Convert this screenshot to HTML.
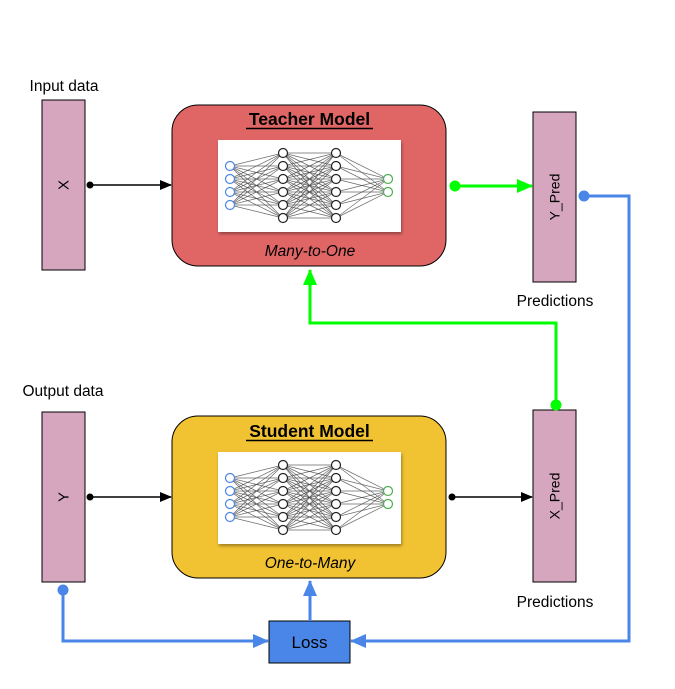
<!DOCTYPE html>
<html><head><meta charset="utf-8"><style>
html,body{margin:0;padding:0;background:#fff}
svg{display:block;font-family:"Liberation Sans",Arial,sans-serif}
</style></head><body>
<svg id="s" width="675" height="689" viewBox="0 0 675 689" xmlns="http://www.w3.org/2000/svg">
<defs>
<marker id="ak" markerWidth="12" markerHeight="10" refX="11" refY="5" orient="auto" markerUnits="userSpaceOnUse"><path d="M0,0 L12,5 L0,10z" fill="#000"/></marker>
<marker id="ag" markerWidth="16" markerHeight="14" refX="15" refY="7" orient="auto" markerUnits="userSpaceOnUse"><path d="M0,0 L16,7 L0,14z" fill="#00ff00"/></marker>
<marker id="ab" markerWidth="16" markerHeight="14" refX="15" refY="7" orient="auto" markerUnits="userSpaceOnUse"><path d="M0,0 L16,7 L0,14z" fill="#4a86e8"/></marker>
<filter id="sh"><feDropShadow dx="1" dy="2" stdDeviation="1.5" flood-opacity="0.35"/></filter>
</defs>
<rect width="675" height="689" fill="#fff"/>

<text x="64" y="91" font-size="15.5" text-anchor="middle">Input data</text>
<text x="63" y="396" font-size="15.5" text-anchor="middle">Output data</text>
<text x="555" y="306" font-size="15.5" text-anchor="middle">Predictions</text>
<text x="555" y="607" font-size="15.5" text-anchor="middle">Predictions</text>

<rect x="42" y="100" width="43" height="170" fill="#d5a6bd" stroke="#000"/>
<text transform="translate(63.5,185) rotate(-90)" font-size="15" text-anchor="middle" dy="5">X</text>
<rect x="42" y="412" width="43" height="170" fill="#d5a6bd" stroke="#000"/>
<text transform="translate(63.5,497) rotate(-90)" font-size="15" text-anchor="middle" dy="5">Y</text>
<rect x="533" y="112" width="43" height="170" fill="#d5a6bd" stroke="#000"/>
<text transform="translate(554.5,197) rotate(-90)" font-size="14" text-anchor="middle" dy="5">Y_Pred</text>
<rect x="533" y="410" width="43" height="172" fill="#d5a6bd" stroke="#000"/>
<text transform="translate(554.5,496) rotate(-90)" font-size="14" text-anchor="middle" dy="5">X_Pred</text>

<rect x="172" y="105" width="274" height="161" rx="26" fill="#e06666" stroke="#000"/>
<text x="309.5" y="125" font-size="17.5" font-weight="bold" text-anchor="middle">Teacher Model</text>
<line x1="246" y1="128.5" x2="373" y2="128.5" stroke="#000" stroke-width="1.5"/>
<rect x="218" y="140" width="183" height="92" fill="#fff" filter="url(#sh)"/>
<g id="nn1"></g>
<text x="310" y="256" font-size="15.5" font-style="italic" text-anchor="middle">Many-to-One</text>

<rect x="172" y="416" width="274" height="162" rx="26" fill="#f1c232" stroke="#000"/>
<text x="309.5" y="437" font-size="17.5" font-weight="bold" text-anchor="middle">Student Model</text>
<line x1="246" y1="440.5" x2="373" y2="440.5" stroke="#000" stroke-width="1.5"/>
<rect x="218" y="452" width="183" height="92" fill="#fff" filter="url(#sh)"/>
<g id="nn2"></g>
<text x="310" y="568" font-size="15.5" font-style="italic" text-anchor="middle">One-to-Many</text>

<rect x="269" y="621" width="81" height="42" fill="#4a86e8" stroke="#000"/>
<text x="309.5" y="648" font-size="17" text-anchor="middle">Loss</text>

<circle cx="90" cy="185" r="3.5" fill="#000"/>
<line x1="90" y1="185" x2="171" y2="185" stroke="#000" stroke-width="1.5" marker-end="url(#ak)"/>
<circle cx="90" cy="497" r="3.5" fill="#000"/>
<line x1="90" y1="497" x2="171" y2="497" stroke="#000" stroke-width="1.5" marker-end="url(#ak)"/>
<circle cx="452" cy="497" r="3.5" fill="#000"/>
<line x1="452" y1="497" x2="532" y2="497" stroke="#000" stroke-width="1.5" marker-end="url(#ak)"/>

<circle cx="455" cy="186" r="5.5" fill="#00ff00"/>
<line x1="455" y1="186" x2="532" y2="186" stroke="#00ff00" stroke-width="3" marker-end="url(#ag)"/>
<circle cx="556" cy="405" r="5.5" fill="#00ff00"/>
<polyline points="556,405 556,323 310,323 310,270" fill="none" stroke="#00ff00" stroke-width="3" marker-end="url(#ag)"/>

<circle cx="584" cy="196" r="5.5" fill="#4a86e8"/>
<polyline points="584,196 629,196 629,641 351,641" fill="none" stroke="#4a86e8" stroke-width="3" marker-end="url(#ab)"/>
<circle cx="63" cy="590" r="5.5" fill="#4a86e8"/>
<polyline points="63,590 63,641 268,641" fill="none" stroke="#4a86e8" stroke-width="3" marker-end="url(#ab)"/>
<line x1="310" y1="621" x2="310" y2="581" stroke="#4a86e8" stroke-width="3" marker-end="url(#ab)"/>
</svg>
<script>
function nn(id,oy){
  var g=document.getElementById(id),h="";
  var L=[{x:230,ys:[166,179,192,205],c:"#4a86e8"},{x:283,ys:[153,166,179,192,205,218],c:"#222"},{x:336,ys:[153,166,179,192,205,218],c:"#222"},{x:388,ys:[179,192],c:"#4caf50"}];
  for(var i=0;i<3;i++)for(var a of L[i].ys)for(var b of L[i+1].ys)h+='<line x1="'+L[i].x+'" y1="'+(a+oy)+'" x2="'+L[i+1].x+'" y2="'+(b+oy)+'" stroke="#444" stroke-width="0.7" stroke-opacity="0.8"/>';
  for(var l of L)for(var y of l.ys)h+='<circle cx="'+l.x+'" cy="'+(y+oy)+'" r="4.5" fill="#fff" stroke="'+l.c+'" stroke-width="1.2"/>';
  g.innerHTML=h;
}
nn("nn1",0);nn("nn2",312);
</script>
</body></html>
